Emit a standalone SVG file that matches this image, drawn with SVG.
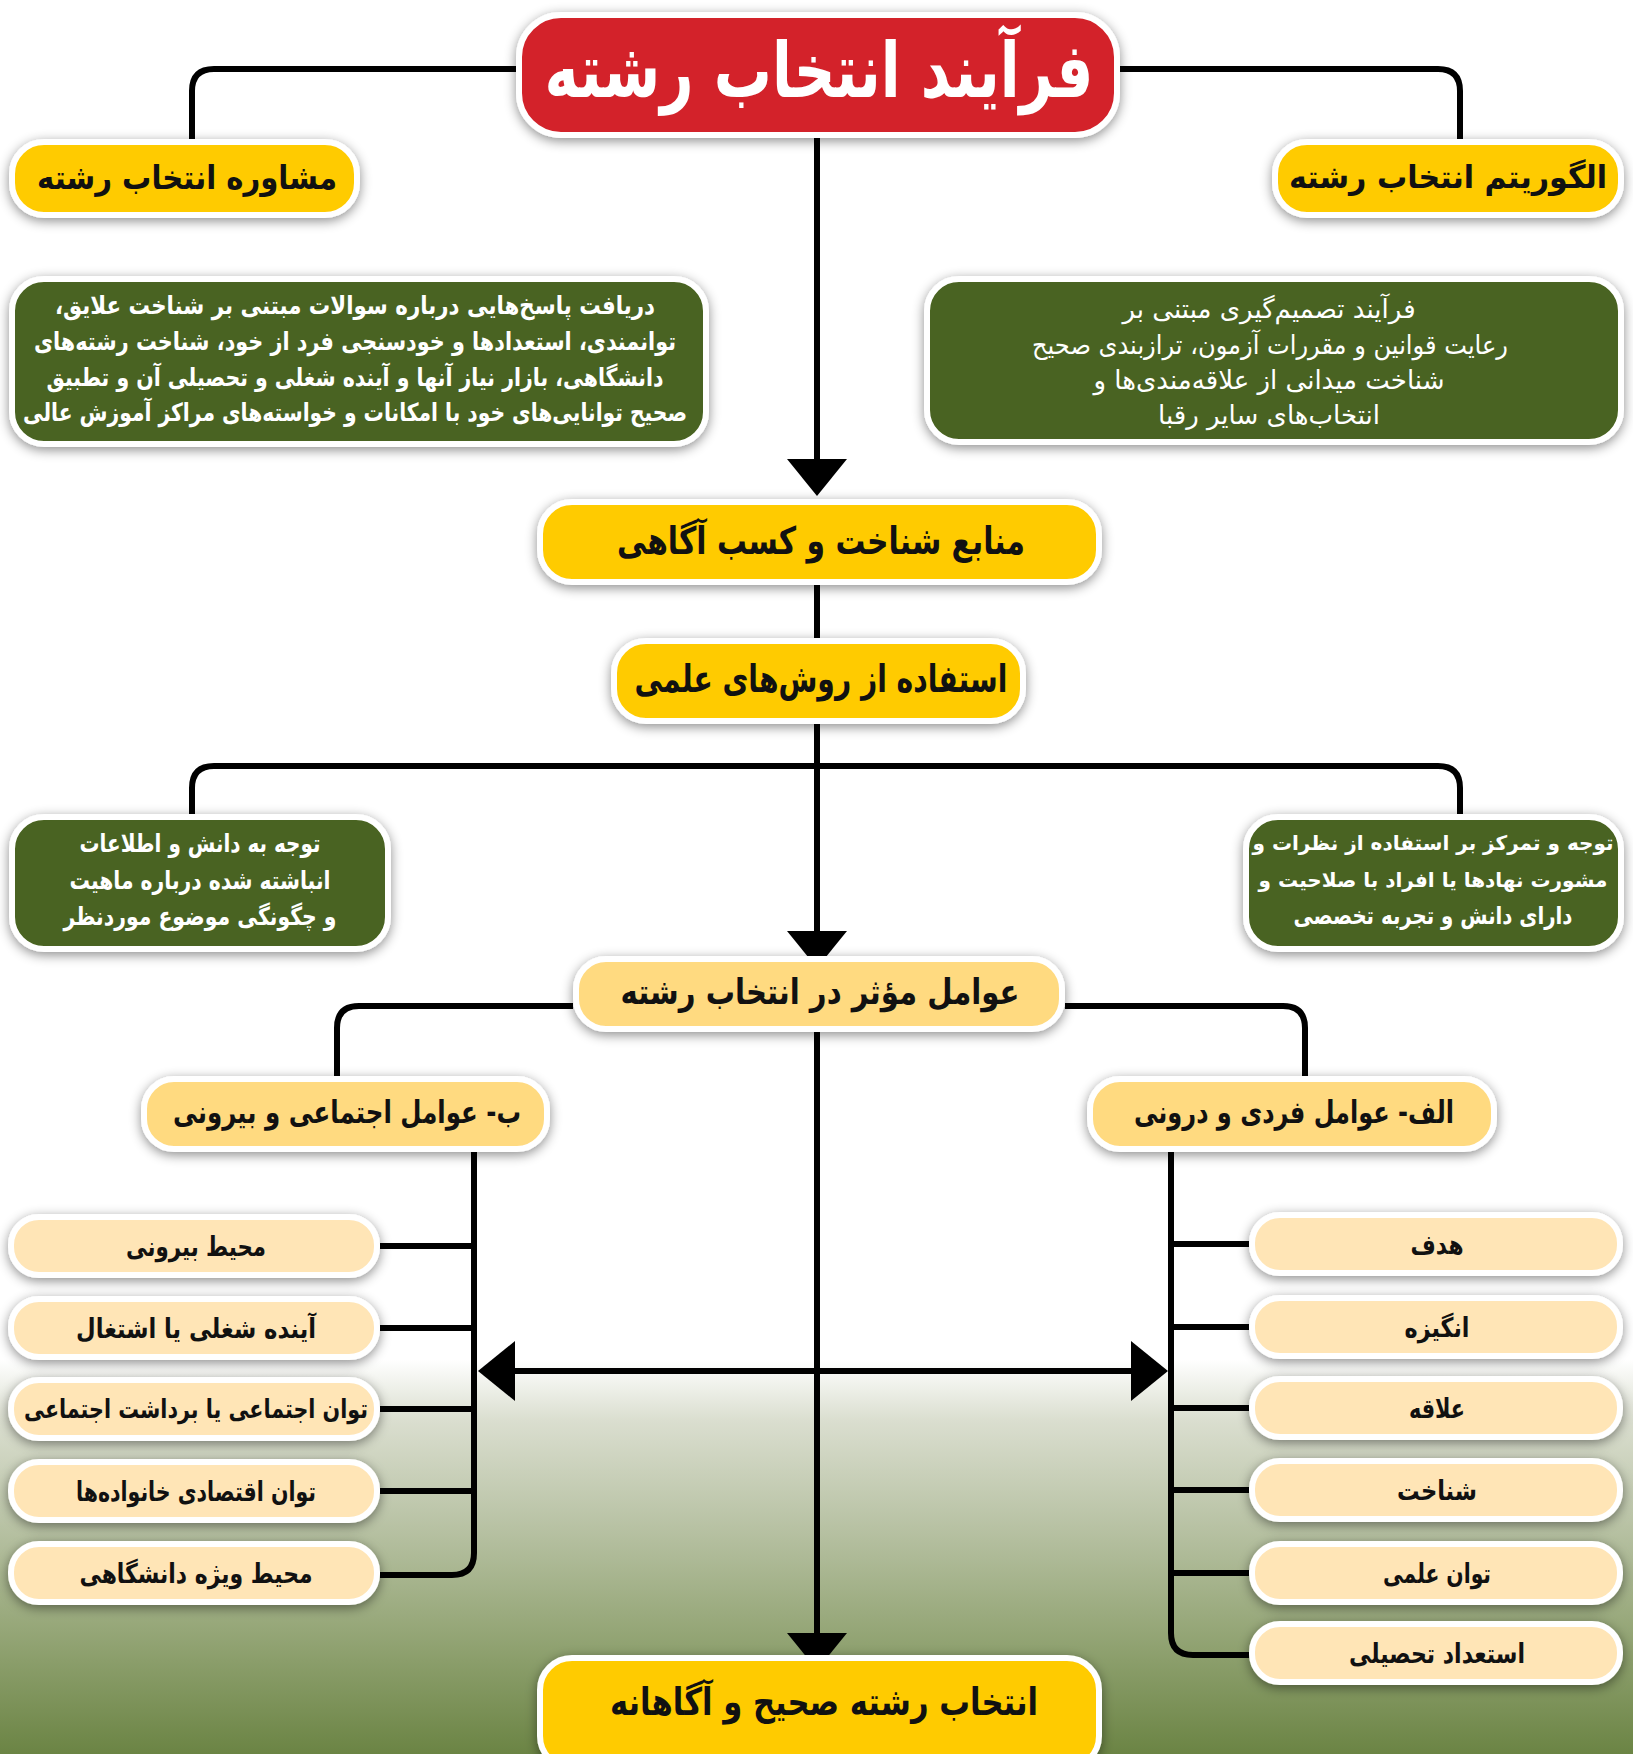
<svg xmlns="http://www.w3.org/2000/svg" width="1633" height="1754" viewBox="0 0 1633 1754">
<defs>
<linearGradient id="bg" x1="0" y1="0" x2="0" y2="1754" gradientUnits="userSpaceOnUse">
<stop offset="0" stop-color="#ffffff"/>
<stop offset="0.775" stop-color="#ffffff"/>
<stop offset="0.81" stop-color="#dadecf"/>
<stop offset="0.87" stop-color="#b8c2a4"/>
<stop offset="0.93" stop-color="#95a677"/>
<stop offset="1" stop-color="#6b8444"/>
</linearGradient>
<filter id="sh" x="-20%" y="-30%" width="140%" height="160%">
<feDropShadow dx="0" dy="3" stdDeviation="6" flood-color="#000" flood-opacity="0.45"/>
</filter>
<style>
.box{stroke:#fff;stroke-width:6;filter:url(#sh)}
.red{fill:#d3222a}
.yel{fill:#ffcb05}
.lyel{fill:#ffda80}
.pale{fill:#ffe5b6}
.grn{fill:#4a6420}
.t{font-family:"DejaVu Sans",sans-serif;font-weight:bold;text-anchor:middle;dominant-baseline:central;direction:rtl}
.n{font-weight:normal}
.tb{fill:#111}
.tw{fill:#fff}
.ln{fill:none;stroke:#000;stroke-width:6}
.ah{fill:#000}
</style>
</defs>
<rect x="0" y="0" width="1633" height="1754" fill="url(#bg)"/>
<g id="connectors">
<path class="ln" d="M516 69 H214 Q192 69 192 91 V140"/>
<path class="ln" d="M1120 69 H1438 Q1460 69 1460 91 V140"/>
<path class="ln" d="M817 138 V462"/>
<polygon class="ah" points="787,459 847,459 817,496"/>
<path class="ln" d="M817 585 V638"/>
<path class="ln" d="M817 724 V934"/>
<path class="ln" d="M192 815 V788 Q192 766 214 766 H1438 Q1460 766 1460 788 V815"/>
<polygon class="ah" points="787,931 847,931 817,968"/>
<path class="ln" d="M573 1006 H359 Q337 1006 337 1028 V1076"/>
<path class="ln" d="M1065 1006 H1283 Q1305 1006 1305 1028 V1076"/>
<path class="ln" d="M817 1032 V1636"/>
<polygon class="ah" points="787,1633 847,1633 817,1670"/>
<path class="ln" d="M474 1152 V1553 Q474 1575 452 1575 H380"/>
<path class="ln" d="M380 1246 H474 M380 1328 H474 M380 1409 H474 M380 1491 H474"/>
<path class="ln" d="M1171 1152 V1633 Q1171 1655 1193 1655 H1249"/>
<path class="ln" d="M1171 1244 H1249 M1171 1327 H1249 M1171 1408 H1249 M1171 1490 H1249 M1171 1573 H1249"/>
<path class="ln" d="M512 1371 H1134"/>
<polygon class="ah" points="478,1371 515,1341 515,1401"/>
<polygon class="ah" points="1168,1371 1131,1341 1131,1401"/>
</g>
<g id="title">
<rect class="box red" x="519" y="15" width="598" height="120" rx="42"/>
<text class="t tw" x="819" y="70" font-size="76" textLength="549" lengthAdjust="spacingAndGlyphs">فرآیند انتخاب رشته</text>
</g>
<g id="n-moshavere">
<rect class="box yel" x="12" y="142" width="345" height="73" rx="32"/>
<text class="t tb" x="187" y="177" font-size="33" textLength="300" lengthAdjust="spacingAndGlyphs">مشاوره انتخاب رشته</text>
</g>
<g id="n-algorithm">
<rect class="box yel" x="1275" y="142" width="346" height="73" rx="32"/>
<text class="t tb" x="1448" y="177" font-size="32" textLength="318" lengthAdjust="spacingAndGlyphs">الگوریتم انتخاب رشته</text>
</g>
<g id="n-desc-left">
<rect class="box grn" x="12" y="279" width="694" height="165" rx="32"/>
<text class="t tw" x="355" y="305" font-size="25" textLength="600" lengthAdjust="spacingAndGlyphs">دریافت پاسخ‌هایی درباره سوالات مبتنی بر شناخت علایق،</text>
<text class="t tw" x="355" y="341" font-size="25" textLength="642" lengthAdjust="spacingAndGlyphs">توانمندی، استعدادها و خودسنجی فرد از خود، شناخت رشته‌های</text>
<text class="t tw" x="355" y="377" font-size="25" textLength="617" lengthAdjust="spacingAndGlyphs">دانشگاهی، بازار نیاز آنها و آینده شغلی و تحصیلی آن و تطبیق</text>
<text class="t tw" x="355" y="412" font-size="25" textLength="664" lengthAdjust="spacingAndGlyphs">صحیح توانایی‌های خود با امکانات و خواسته‌های مراکز آموزش عالی</text>
</g>
<g id="n-desc-right">
<rect class="box grn" x="927" y="279" width="694" height="163" rx="32"/>
<text class="t tw n" x="1269" y="309" font-size="26">فرآیند تصمیم‌گیری مبتنی بر</text>
<text class="t tw n" x="1270" y="345" font-size="26" textLength="476" lengthAdjust="spacingAndGlyphs">رعایت قوانین و مقررات آزمون، ترازبندی صحیح</text>
<text class="t tw n" x="1269" y="380" font-size="26">شناخت میدانی از علاقه‌مندی‌ها و</text>
<text class="t tw n" x="1269" y="415" font-size="26">انتخاب‌های سایر رقبا</text>
</g>
<g id="n-manabe">
<rect class="box yel" x="540" y="502" width="559" height="80" rx="32"/>
<text class="t tb" x="821" y="541" font-size="38" textLength="408" lengthAdjust="spacingAndGlyphs">منابع شناخت و کسب آگاهی</text>
</g>
<g id="n-estefade">
<rect class="box yel" x="614" y="641" width="409" height="80" rx="32"/>
<text class="t tb" x="821" y="679" font-size="38" textLength="373" lengthAdjust="spacingAndGlyphs">استفاده از روش‌های علمی</text>
</g>
<g id="n-desc-left2">
<rect class="box grn" x="12" y="817" width="376" height="132" rx="32"/>
<text class="t tw" x="200" y="843" font-size="25" textLength="241" lengthAdjust="spacingAndGlyphs">توجه به دانش و اطلاعات</text>
<text class="t tw" x="200" y="880" font-size="25" textLength="261" lengthAdjust="spacingAndGlyphs">انباشته شده درباره ماهیت</text>
<text class="t tw" x="200" y="916" font-size="25" textLength="273" lengthAdjust="spacingAndGlyphs">و چگونگی موضوع موردنظر</text>
</g>
<g id="n-desc-right2">
<rect class="box grn" x="1246" y="817" width="375" height="132" rx="32"/>
<text class="t tw" x="1433" y="843" font-size="20">توجه و تمرکز بر استفاده از نظرات و</text>
<text class="t tw" x="1433" y="880" font-size="20">مشورت نهادها یا افراد با صلاحیت و</text>
<text class="t tw" x="1433" y="916" font-size="24" textLength="279" lengthAdjust="spacingAndGlyphs">دارای دانش و تجربه تخصصی</text>
</g>
<g id="n-avamel">
<rect class="box lyel" x="576" y="959" width="486" height="70" rx="30"/>
<text class="t tb" x="820" y="992" font-size="35" textLength="399" lengthAdjust="spacingAndGlyphs">عوامل مؤثر در انتخاب رشته</text>
</g>
<g id="n-be">
<rect class="box lyel" x="144" y="1079" width="403" height="70" rx="30"/>
<text class="t tb" x="347" y="1112" font-size="31" textLength="348" lengthAdjust="spacingAndGlyphs">ب- عوامل اجتماعی و بیرونی</text>
</g>
<g id="n-alef">
<rect class="box lyel" x="1090" y="1079" width="404" height="70" rx="30"/>
<text class="t tb" x="1294" y="1112" font-size="31" textLength="320" lengthAdjust="spacingAndGlyphs">الف- عوامل فردی و درونی</text>
</g>
<g id="n-l1"><rect class="box pale" x="11" y="1217" width="366" height="58" rx="28"/><text class="t tb" x="196" y="1246" font-size="27" textLength="140" lengthAdjust="spacingAndGlyphs">محیط بیرونی</text></g>
<g id="n-l2"><rect class="box pale" x="11" y="1299" width="366" height="58" rx="28"/><text class="t tb" x="196" y="1328" font-size="27" textLength="240" lengthAdjust="spacingAndGlyphs">آینده شغلی یا  اشتغال</text></g>
<g id="n-l3"><rect class="box pale" x="11" y="1380" width="366" height="58" rx="28"/><text class="t tb" x="196" y="1409" font-size="26" textLength="344" lengthAdjust="spacingAndGlyphs">توان اجتماعی یا برداشت اجتماعی</text></g>
<g id="n-l4"><rect class="box pale" x="11" y="1462" width="366" height="58" rx="28"/><text class="t tb" x="196" y="1491" font-size="27" textLength="240" lengthAdjust="spacingAndGlyphs">توان اقتصادی خانواده‌ها</text></g>
<g id="n-l5"><rect class="box pale" x="11" y="1544" width="366" height="58" rx="28"/><text class="t tb" x="196" y="1573" font-size="27" textLength="233" lengthAdjust="spacingAndGlyphs">محیط ویژه دانشگاهی</text></g>
<g id="n-r1"><rect class="box pale" x="1252" y="1215" width="368" height="58" rx="28"/><text class="t tb" x="1437" y="1244" font-size="27" textLength="53" lengthAdjust="spacingAndGlyphs">هدف</text></g>
<g id="n-r2"><rect class="box pale" x="1252" y="1298" width="368" height="58" rx="28"/><text class="t tb" x="1437" y="1327" font-size="27" textLength="65" lengthAdjust="spacingAndGlyphs">انگیزه</text></g>
<g id="n-r3"><rect class="box pale" x="1252" y="1379" width="368" height="58" rx="28"/><text class="t tb" x="1437" y="1408" font-size="27" textLength="56" lengthAdjust="spacingAndGlyphs">علاقه</text></g>
<g id="n-r4"><rect class="box pale" x="1252" y="1461" width="368" height="58" rx="28"/><text class="t tb" x="1437" y="1490" font-size="27" textLength="80" lengthAdjust="spacingAndGlyphs">شناخت</text></g>
<g id="n-r5"><rect class="box pale" x="1252" y="1544" width="368" height="58" rx="28"/><text class="t tb" x="1437" y="1573" font-size="27" textLength="108" lengthAdjust="spacingAndGlyphs">توان علمی</text></g>
<g id="n-r6"><rect class="box pale" x="1252" y="1624" width="368" height="58" rx="28"/><text class="t tb" x="1437" y="1653" font-size="27" textLength="176" lengthAdjust="spacingAndGlyphs">استعداد تحصیلی</text></g>
<g id="n-final">
<rect class="box yel" x="540" y="1658" width="559" height="110" rx="32"/>
<text class="t tb" x="824" y="1702" font-size="38" textLength="428" lengthAdjust="spacingAndGlyphs">انتخاب رشته صحیح و آگاهانه</text>
</g>
</svg>
